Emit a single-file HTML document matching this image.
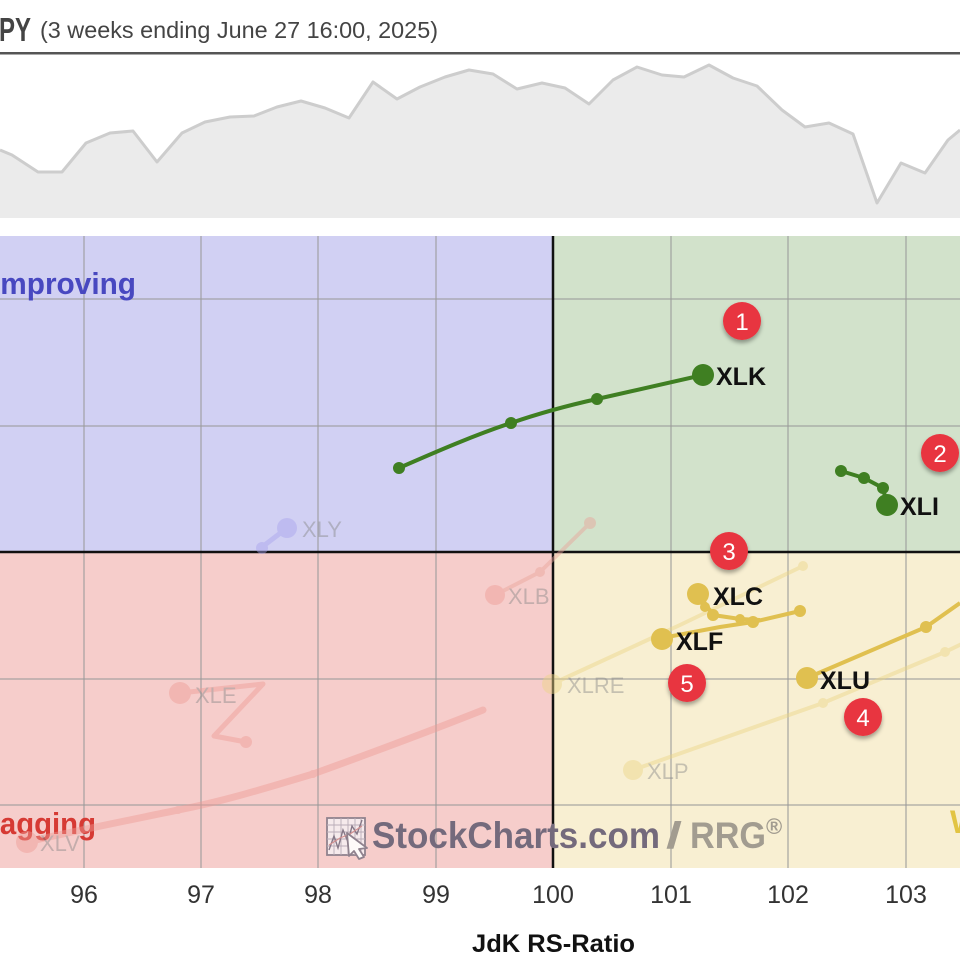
<!DOCTYPE html>
<html><head><meta charset="utf-8"><style>
html,body{margin:0;padding:0;background:#fff;}
svg{display:block;}
</style></head><body>
<svg width="960" height="960" viewBox="0 0 960 960" xmlns="http://www.w3.org/2000/svg" font-family="'Liberation Sans', sans-serif">
<defs>
<clipPath id="pc"><rect x="0" y="236" width="960" height="632"/></clipPath>
<filter id="sh" x="-50%" y="-50%" width="200%" height="200%"><feDropShadow dx="0" dy="3" stdDeviation="2" flood-color="#000" flood-opacity="0.35"/></filter>
</defs>
<rect width="960" height="960" fill="#fff"/>
<!-- title -->
<text x="-1" y="41" font-size="33" font-weight="bold" fill="#444" textLength="32" lengthAdjust="spacingAndGlyphs">PY</text>
<text x="40" y="38" font-size="23" fill="#444" textLength="398" lengthAdjust="spacingAndGlyphs">(3 weeks ending June 27 16:00, 2025)</text>
<!-- mini chart -->
<polygon fill="#ebebeb" points="0,218 0,150 12,155 38,172 62,172 86,143 110,133 133,131 157,162 182,133 205,122 230,117 254,116 277,107 301,101 325,108 349,118 373,82 397,99 420,87 445,77 469,70 493,74 517,89 542,83 565,88 589,104 613,80 637,67 662,75 684,77 709,65 733,78 757,86 782,110 805,127 829,123 853,134 877,203 901,163 925,173 948,140 960,130 960,218"/>
<polyline fill="none" stroke="#cdcdcd" stroke-width="3" stroke-linejoin="round" points="0,150 12,155 38,172 62,172 86,143 110,133 133,131 157,162 182,133 205,122 230,117 254,116 277,107 301,101 325,108 349,118 373,82 397,99 420,87 445,77 469,70 493,74 517,89 542,83 565,88 589,104 613,80 637,67 662,75 684,77 709,65 733,78 757,86 782,110 805,127 829,123 853,134 877,203 901,163 925,173 948,140 960,130"/>
<rect x="0" y="52" width="960" height="2.5" fill="#555"/>

<g clip-path="url(#pc)">
<!-- quadrants -->
<rect x="0" y="236" width="553" height="316" fill="#d1d0f3"/>
<rect x="553" y="236" width="407" height="316" fill="#d2e2cb"/>
<rect x="0" y="552" width="553" height="316" fill="#f6cdcb"/>
<rect x="553" y="552" width="407" height="316" fill="#f8efd2"/>
<!-- grid -->
<g stroke="#9a9a9a" stroke-opacity="0.7" stroke-width="1.5">
<line x1="84" y1="236" x2="84" y2="868"/>
<line x1="201" y1="236" x2="201" y2="868"/>
<line x1="318" y1="236" x2="318" y2="868"/>
<line x1="436" y1="236" x2="436" y2="868"/>
<line x1="671" y1="236" x2="671" y2="868"/>
<line x1="788" y1="236" x2="788" y2="868"/>
<line x1="906" y1="236" x2="906" y2="868"/>
<line x1="0" y1="299" x2="960" y2="299"/>
<line x1="0" y1="426" x2="960" y2="426"/>
<line x1="0" y1="679" x2="960" y2="679"/>
<line x1="0" y1="805" x2="960" y2="805"/>
</g>
<line x1="553" y1="236" x2="553" y2="868" stroke="#111" stroke-width="2.5"/>
<line x1="0" y1="552" x2="960" y2="552" stroke="#111" stroke-width="2.5"/>

<!-- quadrant labels -->
<text x="-8" y="294" font-size="31" font-weight="bold" fill="#4848c0" textLength="144" lengthAdjust="spacingAndGlyphs">Improving</text>
<text x="-18" y="834" font-size="31" font-weight="bold" fill="#d63a34" textLength="114" lengthAdjust="spacingAndGlyphs">Lagging</text>
<text x="950" y="833" font-size="32" font-weight="bold" fill="#e2c443">Weakening</text>

<!-- logo -->
<g opacity="0.9">
<rect x="327" y="818" width="38" height="37" fill="#f6eef0" stroke="#857a88" stroke-width="1.8"/>
<g stroke="#b3a9b5" stroke-width="0.9">
<line x1="334" y1="818" x2="334" y2="855"/><line x1="341" y1="818" x2="341" y2="855"/><line x1="348" y1="818" x2="348" y2="855"/><line x1="355" y1="818" x2="355" y2="855"/><line x1="361" y1="818" x2="361" y2="855"/>
<line x1="327" y1="825" x2="365" y2="825"/><line x1="327" y1="832" x2="365" y2="832"/><line x1="327" y1="839" x2="365" y2="839"/><line x1="327" y1="846" x2="365" y2="846"/>
</g>
<polyline points="329,850 334,836 338,848 343,830 348,842 352,826 357,834 362,820" fill="none" stroke="#7a6f80" stroke-width="1.4"/>
<polyline points="329,845 340,838 350,834 362,826" fill="none" stroke="#d08a8a" stroke-width="1.2"/>
<polygon points="347,833 349,856 354,851 359,859 364,857 359,849 367,848" fill="#fff" stroke="#857a88" stroke-width="1.8" stroke-linejoin="round"/>
</g>
<text x="372" y="848" font-size="37" font-weight="bold" fill="#746a7c" textLength="288" lengthAdjust="spacingAndGlyphs">StockCharts.com</text>
<text x="666" y="848" font-size="37" font-weight="bold" fill="#a29c90" textLength="16" lengthAdjust="spacingAndGlyphs">/</text>
<text x="690" y="848" font-size="37" font-weight="bold" fill="#a29c90" textLength="76" lengthAdjust="spacingAndGlyphs">RRG</text>
<text x="766" y="834" font-size="22" font-weight="bold" fill="#a29c90">®</text>

<!-- faded series -->
<g opacity="0.45">
<!-- XLV -->
<path d="M483,710 C420,735 360,757 313,774 C260,790 220,802 178,810 C120,822 70,832 27,842" fill="none" stroke="#ee9b94" stroke-width="7" stroke-linecap="round"/>
<circle cx="313" cy="774" r="4" fill="#ee9b94"/>
<circle cx="178" cy="810" r="4" fill="#ee9b94"/>
<circle cx="27" cy="842" r="11" fill="#ee9b94"/>
<text x="40" y="851" font-size="22" fill="#888">XLV</text>
<!-- XLE -->
<polyline points="246,742 214,736 263,684 180,693" fill="none" stroke="#ee9b94" stroke-width="5" stroke-linejoin="round"/>
<circle cx="246" cy="742" r="6" fill="#ee9b94"/>
<circle cx="180" cy="693" r="11" fill="#ee9b94"/>
<text x="195" y="703" font-size="22" fill="#888">XLE</text>
<!-- XLB -->
<polyline points="590,523 540,572 495,595" fill="none" stroke="#e9a49a" stroke-width="4"/>
<circle cx="590" cy="523" r="6" fill="#e9a49a"/>
<circle cx="540" cy="572" r="5" fill="#e9a49a"/>
<circle cx="495" cy="595" r="10" fill="#ee9b94"/>
<text x="508" y="604" font-size="22" fill="#888">XLB</text>
<!-- XLY -->
<polyline points="258,550 266,544 287,528" fill="none" stroke="#a9a3ee" stroke-width="5"/>
<circle cx="262" cy="548" r="6" fill="#a9a3ee"/>
<circle cx="287" cy="528" r="10" fill="#a9a3ee"/>
<text x="302" y="537" font-size="22" fill="#888">XLY</text>
<!-- XLRE -->
<polyline points="803,566 680,625 552,684" fill="none" stroke="#ecd585" stroke-width="4"/>
<circle cx="803" cy="566" r="5" fill="#ecd585"/>
<circle cx="552" cy="684" r="10" fill="#ecd585"/>
<text x="567" y="693" font-size="22" fill="#888">XLRE</text>
<!-- XLP -->
<polyline points="970,640 945,652 823,703 633,770" fill="none" stroke="#ecd585" stroke-width="4"/>
<circle cx="945" cy="652" r="5" fill="#ecd585"/>
<circle cx="823" cy="703" r="5" fill="#ecd585"/>
<circle cx="633" cy="770" r="10" fill="#ecd585"/>
<text x="647" y="779" font-size="22" fill="#888">XLP</text>
</g>

<!-- XLK -->
<path d="M399,468 C440,450 475,435 511,423 C540,413 570,405 597,399 C640,389 675,381 703,375" fill="none" stroke="#3f7f22" stroke-width="4"/>
<circle cx="399" cy="468" r="6" fill="#3f7f22"/>
<circle cx="511" cy="423" r="6" fill="#3f7f22"/>
<circle cx="597" cy="399" r="6" fill="#3f7f22"/>
<circle cx="703" cy="375" r="11" fill="#3f7f22"/>
<text x="716" y="385" font-size="25" font-weight="bold" fill="#111">XLK</text>
<!-- XLI -->
<polyline points="841,471 864,478 883,488 887,505" fill="none" stroke="#3f7f22" stroke-width="4" stroke-linejoin="round"/>
<circle cx="841" cy="471" r="6" fill="#3f7f22"/>
<circle cx="864" cy="478" r="6" fill="#3f7f22"/>
<circle cx="883" cy="488" r="6" fill="#3f7f22"/>
<circle cx="887" cy="505" r="11" fill="#3f7f22"/>
<text x="900" y="515" font-size="25" font-weight="bold" fill="#111">XLI</text>

<!-- yellow -->
<g fill="#e0c050">
<polyline points="800,611 753,622 720,627 662,638" fill="none" stroke="#e0c050" stroke-width="4" stroke-linejoin="round"/>
<polyline points="760,620 740,619 713,615 698,593" fill="none" stroke="#e0c050" stroke-width="4" stroke-linejoin="round"/>
<polyline points="960,603 926,627 807,678" fill="none" stroke="#e0c050" stroke-width="4" stroke-linejoin="round"/>
<circle cx="800" cy="611" r="6"/>
<circle cx="753" cy="622" r="6"/>
<circle cx="740" cy="619" r="5"/>
<circle cx="713" cy="615" r="6"/>
<circle cx="705" cy="607" r="5"/>
<circle cx="926" cy="627" r="6"/>
<circle cx="698" cy="594" r="11"/>
<circle cx="662" cy="639" r="11"/>
<circle cx="807" cy="678" r="11"/>
</g>
<text x="713" y="605" font-size="25" font-weight="bold" fill="#111">XLC</text>
<text x="676" y="650" font-size="25" font-weight="bold" fill="#111">XLF</text>
<text x="820" y="689" font-size="25" font-weight="bold" fill="#111">XLU</text>

<!-- markers -->
<g filter="url(#sh)" fill="#e8343f">
<circle cx="742" cy="321" r="19"/>
<circle cx="940" cy="453" r="19"/>
<circle cx="729" cy="551" r="19"/>
<circle cx="863" cy="717" r="19"/>
<circle cx="687" cy="683" r="19"/>
</g>
<g fill="#fff" font-size="24" text-anchor="middle">
<text x="742" y="330">1</text>
<text x="940" y="462">2</text>
<text x="729" y="560">3</text>
<text x="863" y="726">4</text>
<text x="687" y="692">5</text>
</g>
</g>

<!-- axis labels -->
<g font-size="25" fill="#333" text-anchor="middle">
<text x="84" y="903">96</text>
<text x="201" y="903">97</text>
<text x="318" y="903">98</text>
<text x="436" y="903">99</text>
<text x="553" y="903">100</text>
<text x="671" y="903">101</text>
<text x="788" y="903">102</text>
<text x="906" y="903">103</text>
</g>
<text x="472" y="952" font-size="25" font-weight="bold" fill="#111" textLength="163" lengthAdjust="spacingAndGlyphs">JdK RS-Ratio</text>
</svg>
</body></html>
